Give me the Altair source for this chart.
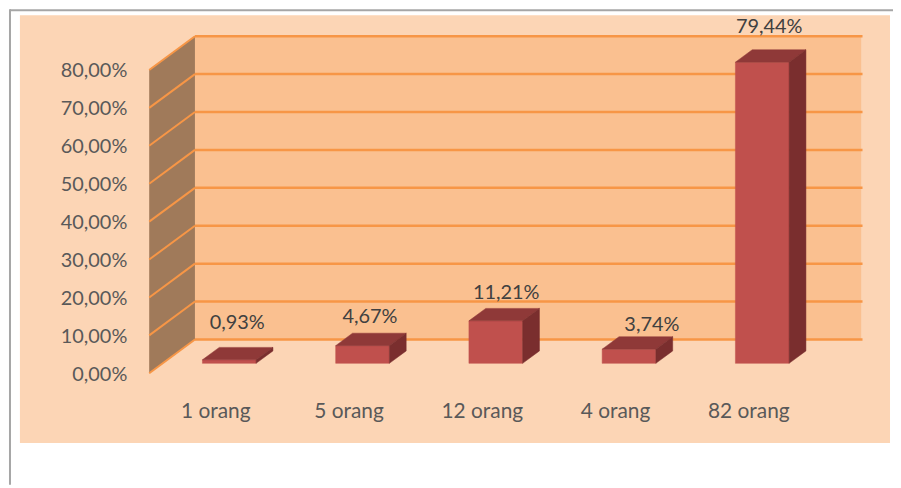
import altair as alt
import pandas as pd

# ---------------- data ----------------
categories = ["1 orang", "5 orang", "12 orang", "4 orang", "82 orang"]
values = [0.93, 4.67, 11.21, 3.74, 79.44]
value_labels = ["0,93%", "4,67%", "11,21%", "3,74%", "79,44%"]
ticks = [0, 10, 20, 30, 40, 50, 60, 70, 80]
tick_labels = ["0,00%", "10,00%", "20,00%", "30,00%", "40,00%",
               "50,00%", "60,00%", "70,00%", "80,00%"]

# ---------------- layout / style ----------------
W, H = 890, 478
PAGE = 8
PX_SLOT = 134.0        # px per category slot (front plane)
PX_PCT = 3.8125        # px per percent
FRONT_X = 150.0        # page x of front-left floor corner
FRONT_Y = 374.0        # page y of 0% at the front plane
s_lo = (PAGE - FRONT_X) / PX_SLOT
s_hi = (PAGE + W - FRONT_X) / PX_SLOT
v_hi = (FRONT_Y - PAGE) / PX_PCT
v_lo = (FRONT_Y - (PAGE + H)) / PX_PCT

DS = 46.0 / PX_SLOT    # depth shift (slot units) front->back wall
DV = 34.0 / PX_PCT     # depth shift (percent units) front->back wall
D_FRONT, D_BACK = 0.294, 0.662   # bar depth extent
HALF_W = 27.0 / PX_SLOT
N = len(categories)
VMAX = ticks[-1]

# label nudges (px) to mimic the original placement
label_dx = [8, 7.5, 10.5, 23, 7]
label_dy = [-18, -10.5, -9, -5.5, -17]

C_PEACH = "#FCD5B5"
C_WALL = "#FAC090"
C_SIDE = "#A07A5A"
C_GRID = "#F79646"
C_FRONT = "#C0504D"
C_TOP = "#8F3938"
C_RSIDE = "#7A2E2E"

xs = alt.Scale(domain=[s_lo, s_hi], nice=False, zero=False)
ys = alt.Scale(domain=[v_lo, v_hi], nice=False, zero=False)

def X(f):
    return alt.X(f, type="quantitative", scale=xs, axis=None, stack=None)

def Y(f):
    return alt.Y(f, type="quantitative", scale=ys, axis=None, stack=None)

one = pd.DataFrame({"a": [0]})

# frame
frame_bg = alt.Chart(one).mark_rect(color=C_PEACH).encode(
    x=alt.value(12), x2=alt.value(887), y=alt.value(6), y2=alt.value(436))
frame_left = alt.Chart(one).mark_rule(color="#A6A6A6", strokeWidth=2).encode(
    x=alt.value(2), y=alt.value(0), y2=alt.value(H))
frame_top = alt.Chart(one).mark_rule(color="#A6A6A6", strokeWidth=2).encode(
    x=alt.value(2), x2=alt.value(W), y=alt.value(1))

# back wall
back_df = pd.DataFrame({"s": [DS], "s2": [N + DS], "v": [DV], "v2": [VMAX + DV]})
back_wall = alt.Chart(back_df).mark_rect(color=C_WALL).encode(
    x=X("s"), x2="s2", y=Y("v"), y2="v2")

# side wall (parallelogram)
side_df = pd.DataFrame({"s": [0, DS], "v": [0, DV], "v2": [VMAX, VMAX + DV]})
side_wall = alt.Chart(side_df).mark_area(orient="vertical", color=C_SIDE).encode(
    x=X("s"), y=Y("v"), y2="v2")

# gridlines
bg_df = pd.DataFrame({"s": [DS] * len(ticks), "s2": [N + DS + 0.01] * len(ticks),
                      "v": [t + DV for t in ticks]})
back_grid = alt.Chart(bg_df).mark_rule(color=C_GRID, strokeWidth=2.5).encode(
    x=X("s"), x2="s2", y=Y("v"))
sg_df = pd.DataFrame({"s": [0] * len(ticks), "s2": [DS] * len(ticks),
                      "v": ticks, "v2": [t + DV for t in ticks]})
side_grid = alt.Chart(sg_df).mark_rule(color=C_GRID, strokeWidth=2).encode(
    x=X("s"), x2="s2", y=Y("v"), y2="v2")

# bars
dsf, dvf = DS * D_FRONT, DV * D_FRONT
dsb, dvb = DS * D_BACK, DV * D_BACK
front_rows, top_rows, rside_rows, lab_rows = [], [], [], []
for i, (cat, val) in enumerate(zip(categories, values)):
    L = i + 0.5 - HALF_W + dsf
    R = i + 0.5 + HALF_W + dsf
    dd = dsb - dsf
    front_rows.append({"id": cat, "s": L, "s2": R, "v": dvf, "v2": val + dvf})
    top_rows.append({"id": cat, "v": val + dvf, "s": L, "s2": R})
    top_rows.append({"id": cat, "v": val + dvb, "s": L + dd, "s2": R + dd})
    rside_rows.append({"id": cat, "s": R, "v": dvf, "v2": val + dvf})
    rside_rows.append({"id": cat, "s": R + dd, "v": dvb, "v2": val + dvb})
    lab_rows.append({"id": cat, "s": i + 0.5 + dsf, "v": val + dvb,
                     "label": value_labels[i]})

bar_front = alt.Chart(pd.DataFrame(front_rows)).mark_rect(
    color=C_FRONT, stroke=C_FRONT, strokeWidth=0.5).encode(
    x=X("s"), x2="s2", y=Y("v"), y2="v2")
bar_top = alt.Chart(pd.DataFrame(top_rows)).mark_area(
    orient="horizontal", color=C_TOP, stroke=C_TOP, strokeWidth=0.5).encode(
    y=Y("v"), x=X("s"), x2="s2", detail="id:N")
bar_side = alt.Chart(pd.DataFrame(rside_rows)).mark_area(
    orient="vertical", color=C_RSIDE, stroke=C_RSIDE, strokeWidth=0.5).encode(
    x=X("s"), y=Y("v"), y2="v2", detail="id:N")

lab_df = pd.DataFrame(lab_rows)
data_labels = []
for i in range(N):
    data_labels.append(
        alt.Chart(lab_df.iloc[[i]]).mark_text(
            font="Lato", fontSize=20, color="#404040", align="center",
            baseline="alphabetic", dx=label_dx[i], dy=label_dy[i]).encode(
            x=X("s"), y=Y("v"), text="label:N"))

# axis tick labels (front plane)
tick_df = pd.DataFrame({"s": [0] * len(ticks), "v": ticks, "label": tick_labels})
tick_text = alt.Chart(tick_df).mark_text(
    font="Lato", fontSize=20, color="#595959", align="right",
    baseline="middle", dx=-22, dy=1.5).encode(
    x=X("s"), y=Y("v"), text="label:N")

cat_df = pd.DataFrame({"s": [i + 0.5 for i in range(N)], "v": [0] * N,
                       "label": categories})
cat_text = alt.Chart(cat_df).mark_text(
    font="Lato", fontSize=21, color="#595959", align="center",
    baseline="middle", dy=39).encode(
    x=X("s"), y=Y("v"), text="label:N")

chart = alt.layer(
    frame_bg, frame_left, frame_top,
    back_wall, side_wall, back_grid, side_grid,
    bar_front, bar_top, bar_side,
    *data_labels, tick_text, cat_text,
).properties(
    width=W, height=H, background="white", padding=0, autosize="none"
).configure_view(stroke=None)

chart.save("out.html", embed_options={"renderer": "svg", "actions": False})
